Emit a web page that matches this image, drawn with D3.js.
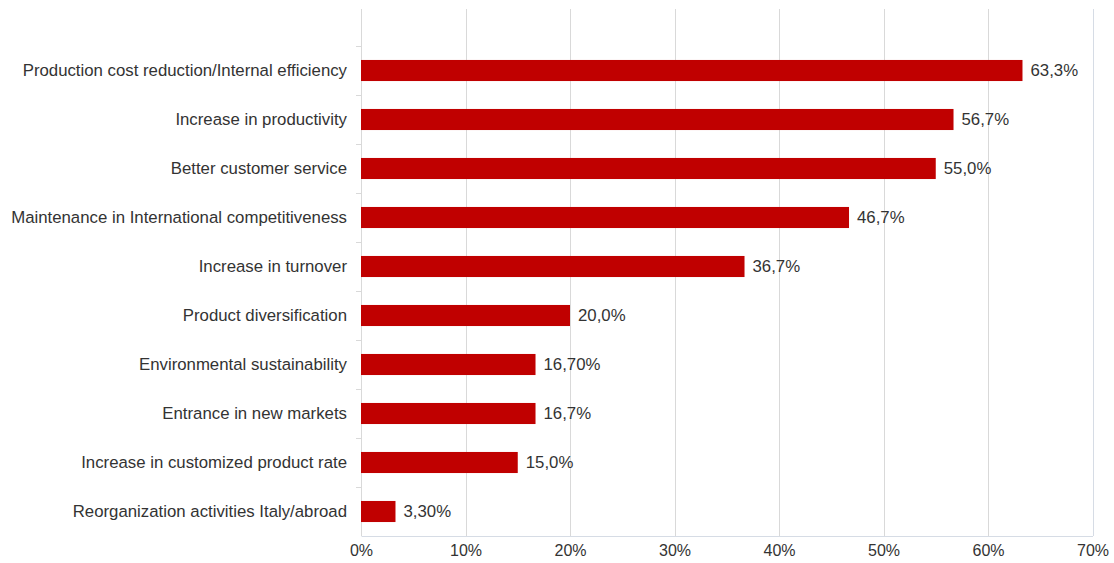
<!DOCTYPE html>
<html>
<head>
<meta charset="utf-8">
<script src="https://cdn.jsdelivr.net/npm/d3@7"></script>
<style>
  html, body { margin: 0; padding: 0; background: #fff; }
  svg text { font-family: "Liberation Sans", Arial, sans-serif; fill: #333; }
</style>
</head>
<body>
<svg id="chart" width="1114" height="563"></svg>
<script>
// Motivations for the investment, share of firms (%)
const categories = [
  "Production cost reduction/Internal efficiency",
  "Increase in productivity",
  "Better customer service",
  "Maintenance in International competitiveness",
  "Increase in turnover",
  "Product diversification",
  "Environmental sustainability",
  "Entrance in new markets",
  "Increase in customized product rate",
  "Reorganization activities Italy/abroad"
];
const values = [63.3, 56.7, 55.0, 46.7, 36.7, 20.0, 16.7, 16.7, 15.0, 3.3];
const valueLabels = ["63,3%", "56,7%", "55,0%", "46,7%", "36,7%", "20,0%", "16,70%", "16,7%", "15,0%", "3,30%"];
const xTicks = [0, 10, 20, 30, 40, 50, 60, 70];
const xTickLabels = ["0%", "10%", "20%", "30%", "40%", "50%", "60%", "70%"];

const svg = d3.select("#chart");
const left = 361, right = 1092.5, plotTop = 9, bandTop = 46, bottom = 536;
const labelSize = 16.8, tickSize = 16;

const x = d3.scaleLinear().domain([0, 70]).range([left, right]);
const y = d3.scaleBand().domain(categories).range([bandTop, bottom]).paddingInner(0.57).paddingOuter(0.285);
const yOuter = d3.scaleBand().domain(categories).range([bandTop, bottom]);

// vertical gridlines
svg.append("g").selectAll("line").data(xTicks.slice(1, -1)).join("line")
  .attr("x1", d => Math.round(x(d)) + 0.5).attr("x2", d => Math.round(x(d)) + 0.5)
  .attr("y1", plotTop).attr("y2", bottom)
  .attr("stroke", "#d9d9d9").attr("stroke-width", 1);

// right border
svg.append("line")
  .attr("x1", Math.round(x(70)) + 0.5).attr("x2", Math.round(x(70)) + 0.5)
  .attr("y1", plotTop).attr("y2", bottom)
  .attr("stroke", "#d6dce5");

// bottom axis
const xAxis = d3.axisBottom(x).tickValues(xTicks)
  .tickFormat((d, i) => xTickLabels[i]).tickSize(0).tickPadding(9);
const gx = svg.append("g").attr("transform", `translate(0,${bottom})`).call(xAxis);
gx.select(".domain").attr("stroke", "#d6dce5");
gx.selectAll("text").attr("font-size", tickSize).attr("fill", "#333")
  .style("font-family", '"Liberation Sans", Arial, sans-serif');

// left axis line and category boundary ticks
svg.append("line")
  .attr("x1", Math.round(left) + 0.5).attr("x2", Math.round(left) + 0.5)
  .attr("y1", plotTop).attr("y2", bottom)
  .attr("stroke", "#d9d9d9");
const boundaries = categories.map(c => yOuter(c));
svg.append("g").selectAll("line").data(boundaries).join("line")
  .attr("x1", Math.round(left) - 5).attr("x2", Math.round(left))
  .attr("y1", d => Math.round(d) + 0.5).attr("y2", d => Math.round(d) + 0.5)
  .attr("stroke", "#d9d9d9");

// category labels
const yAxis = d3.axisLeft(y).tickSize(0).tickPadding(14);
const gy = svg.append("g").attr("transform", `translate(${left},0)`).call(yAxis);
gy.select(".domain").remove();
gy.selectAll("text").attr("font-size", labelSize).attr("fill", "#333")
  .style("font-family", '"Liberation Sans", Arial, sans-serif');

// bars
svg.append("g").selectAll("rect").data(values).join("rect")
  .attr("x", x(0))
  .attr("y", (d, i) => y(categories[i]))
  .attr("width", d => x(d) - x(0))
  .attr("height", y.bandwidth())
  .attr("fill", "#c00000");

// value labels
svg.append("g").selectAll("text").data(values).join("text")
  .attr("x", d => x(d) + 8)
  .attr("y", (d, i) => y(categories[i]) + y.bandwidth() / 2)
  .attr("dy", "0.35em")
  .attr("font-size", labelSize)
  .text((d, i) => valueLabels[i]);
</script>
</body>
</html>
